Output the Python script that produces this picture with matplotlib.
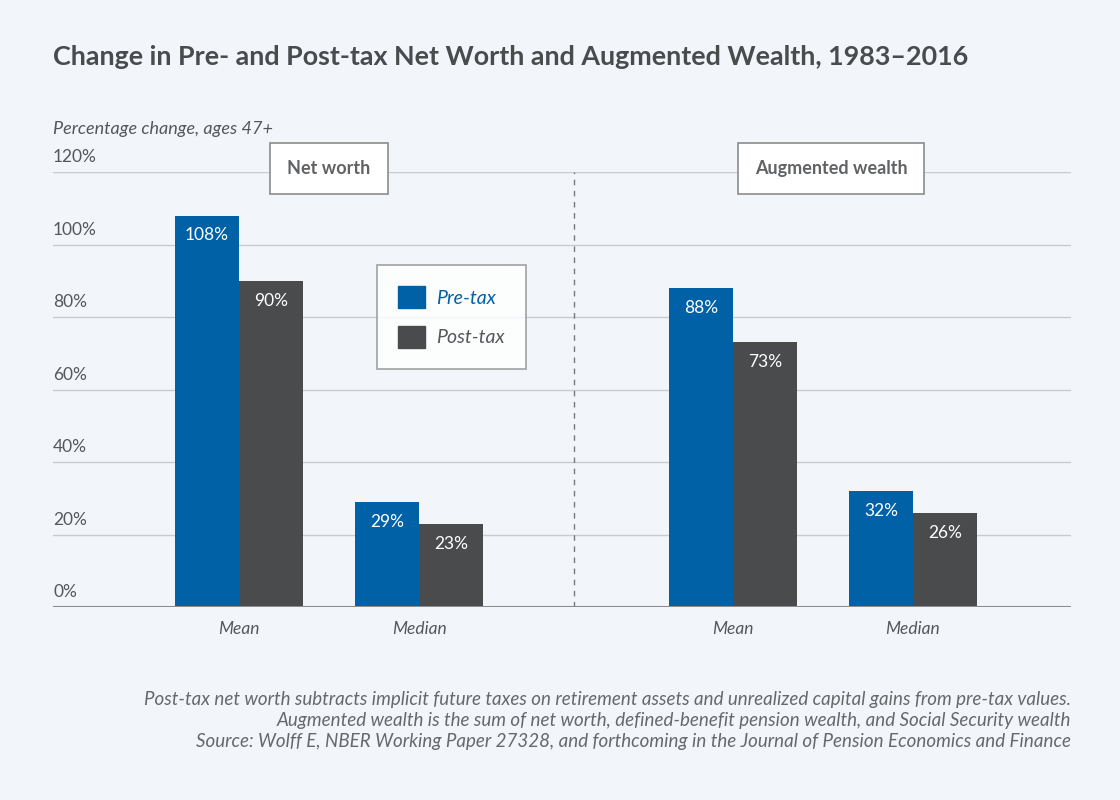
import numpy as np
import matplotlib
matplotlib.use('Agg')
import matplotlib.pyplot as plt
from matplotlib.patches import Patch

# data
groups = ['Net worth', 'Augmented wealth']
stats = ['Mean', 'Median', 'Mean', 'Median']
pre_tax = [108, 29, 88, 32]
post_tax = [90, 23, 73, 26]
yticks = [0, 20, 40, 60, 80, 100, 120]

# fig config
bg = '#f2f6fa'
blue = '#0061a7'
dgray = '#4a4b4d'
grid_c = '#c9cbcd'
txt_c = '#555759'
plt.rcParams['font.family'] = ['Lato', 'DejaVu Sans']

fig = plt.figure(figsize=(11.2, 8), dpi=100, facecolor=bg)
ax = fig.add_axes([53/1120, 1-607/800, 1018/1120, 435/800])
ax.set_facecolor(bg)

# x positions (bar width = 1)
pos = np.array([2.906, 5.719, 10.625, 13.4375])
ax.bar(pos - 0.5, pre_tax, width=1, color=blue, zorder=2)
ax.bar(pos + 0.5, post_tax, width=1, color=dgray, zorder=2)
for x, v in zip(pos - 0.5, pre_tax):
    ax.text(x, v - 3.3, '%d%%' % v, color='white', ha='center', va='top', fontsize=12.5, zorder=3)
for x, v in zip(pos + 0.5, post_tax):
    ax.text(x, v - 3.3, '%d%%' % v, color='white', ha='center', va='top', fontsize=12.5, zorder=3)

ax.set_xlim(0, 1018/64)
ax.set_ylim(0, 120)
for y in yticks[1:]:
    ax.axhline(y, color=grid_c, lw=1, zorder=1)
    ax.text(0, y + 1.8, '%d%%' % y, color=txt_c, fontsize=12.5, ha='left', va='bottom')
ax.text(0, 1.8, '0%', color=txt_c, fontsize=12.5, ha='left', va='bottom')
ax.axhline(0, color='#8a8c8e', lw=1.5, zorder=3)
ax.axvline(8.14, ymin=0, ymax=1, color='#77797b', lw=1, ls=(0, (4, 4)), zorder=1)

for x, s in zip(pos, stats):
    ax.text(x, -4, s, color=txt_c, fontsize=12.5, style='italic', ha='center', va='top')

ax.set_xticks([])
ax.set_yticks([])
for sp in ax.spines.values():
    sp.set_visible(False)

# group label boxes
box = dict(boxstyle='square,pad=0.95', fc='white', ec='#8a8c8e', lw=1.2)
ax.text((329-53)/64, 121, groups[0], fontsize=13, fontweight='bold', color='#606264',
        ha='center', va='center', bbox=box, zorder=4)
ax.text((831-53)/64, 121, groups[1], fontsize=13, fontweight='bold', color='#606264',
        ha='center', va='center', bbox=box, zorder=4)

# legend
handles = [Patch(color=blue, label='Pre-tax'), Patch(color=dgray, label='Post-tax')]
leg = ax.legend(handles=handles, loc='upper left', bbox_to_anchor=((377-53)/1018, 1-(265-172)/435),
                frameon=True, fancybox=False, edgecolor='#8a8c8e', fontsize=14,
                handlelength=1.35, handleheight=1.35, handletextpad=0.6, labelspacing=0.9,
                borderpad=1.1, borderaxespad=0)
leg.get_frame().set_linewidth(1.2)
for t, c in zip(leg.get_texts(), [blue, txt_c]):
    t.set_color(c)
    t.set_style('italic')

# titles and notes
fig.text(53/1120, 1-57/800, 'Change in Pre- and Post-tax Net Worth and Augmented Wealth, 1983\u20132016',
         fontsize=19.4, fontweight='bold', color='#4a4b4d', ha='left', va='center')
fig.text(53/1120, 1-129/800, 'Percentage change, ages 47+', fontsize=13, style='italic',
         color=txt_c, ha='left', va='center')
notes = ['Post-tax net worth subtracts implicit future taxes on retirement assets and unrealized capital gains from pre-tax values.',
         'Augmented wealth is the sum of net worth, defined-benefit pension wealth, and Social Security wealth',
         'Source: Wolff E, NBER Working Paper 27328, and forthcoming in the Journal of Pension Economics and Finance']
for i, n in enumerate(notes):
    fig.text(1071/1120, 1-(699+21.5*i)/800, n, fontsize=13.5, style='italic', color='#66686a',
             ha='right', va='center')

plt.savefig('out.png', dpi=100, facecolor=bg)
